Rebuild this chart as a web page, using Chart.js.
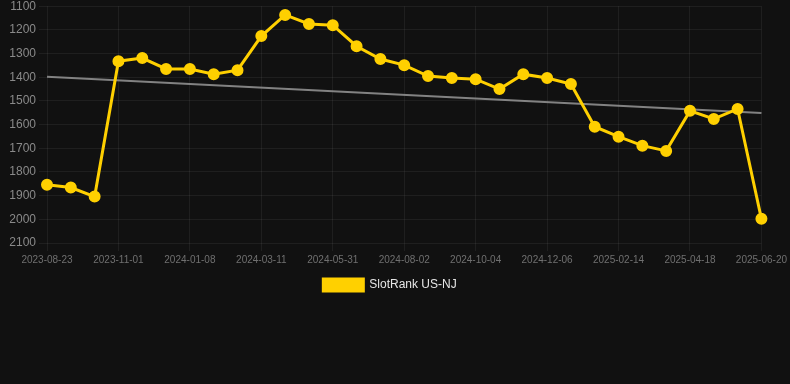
<!DOCTYPE html>
<html>
<head>
<meta charset="utf-8">
<script src="https://cdn.jsdelivr.net/npm/chart.js@4/dist/chart.umd.min.js"></script>
<style>
  html, body { margin: 0; padding: 0; background: #111111; overflow: hidden; }
  #wrap { position: relative; width: 790px; height: 305px; margin-top: -4px; }
</style>
</head>
<body>
<div id="wrap"><canvas id="c"></canvas></div>
<script>
const labels = [
  "2023-08-23","2023-09-15","2023-10-08","2023-11-01","2023-11-24","2023-12-16",
  "2024-01-08","2024-01-29","2024-02-19","2024-03-11","2024-04-07","2024-05-04",
  "2024-05-31","2024-06-21","2024-07-12","2024-08-02","2024-08-23","2024-09-13",
  "2024-10-04","2024-10-25","2024-11-15","2024-12-06","2024-12-29","2025-01-22",
  "2025-02-14","2025-03-06","2025-03-27","2025-04-18","2025-05-09","2025-05-30",
  "2025-06-20"
];
const rankValues = [
  1854, 1866, 1904, 1332, 1319, 1365, 1365, 1387, 1370, 1226, 1137, 1175,
  1180, 1269, 1323, 1349, 1395, 1403, 1408, 1450, 1387, 1403, 1429, 1609,
  1651, 1689, 1711, 1542, 1576, 1534, 1998
];
const trendStart = 1398;
const trendEnd = 1551;
const trendValues = labels.map((_, i) => i === 0 ? trendStart : (i === labels.length - 1 ? trendEnd : null));
const yTicks = [1100, 1200, 1300, 1400, 1500, 1600, 1700, 1800, 1900, 2000, 2100];

Chart.defaults.font.family = "'Liberation Sans', Arial, sans-serif";

new Chart(document.getElementById('c'), {
  type: 'line',
  data: {
    labels: labels,
    datasets: [
      {
        label: 'SlotRank US-NJ',
        data: rankValues,
        borderColor: '#FFD000',
        backgroundColor: '#FFD000',
        borderWidth: 3,
        pointRadius: 4.5,
        pointHoverRadius: 5,
        pointBackgroundColor: '#FFD000',
        pointBorderColor: '#FFD000',
        tension: 0,
        order: 1
      },
      {
        label: 'trend',
        data: trendValues,
        spanGaps: true,
        borderColor: 'rgba(150,150,150,0.85)',
        borderWidth: 2,
        pointRadius: 0,
        pointHoverRadius: 0,
        tension: 0,
        order: 2
      }
    ]
  },
  options: {
    responsive: true,
    maintainAspectRatio: false,
    animation: false,
    layout: { padding: { left: 0, right: 10, top: 0, bottom: 0 } },
    plugins: {
      legend: {
        position: 'bottom',
        labels: {
          color: '#e6e6e6',
          font: { size: 12 },
          boxWidth: 40,
          boxHeight: 12,
          filter: (item) => item.text !== 'trend'
        }
      },
      tooltip: { enabled: false }
    },
    scales: {
      x: {
        offset: false,
        grid: { color: 'rgba(255,255,255,0.06)', drawTicks: true, tickLength: 8 },
        border: { display: false },
        ticks: {
          color: '#707070',
          font: { size: 10 },
          maxRotation: 0,
          autoSkip: true,
          callback: function(v, i) { return i % 3 === 0 ? this.getLabelForValue(v) : null; }
        }
      },
      y: {
        reverse: true,
        min: 1100,
        max: 2100,
        afterBuildTicks: (axis) => { axis.ticks = yTicks.map(v => ({ value: v })); },
        afterFit: (axis) => { axis.width = 47; },
        grid: { color: 'rgba(255,255,255,0.06)', tickLength: 8 },
        border: { display: false },
        ticks: { color: '#8a8a8a', font: { size: 12 }, padding: 3, callback: (v) => String(v) }
      }
    }
  }
});
</script>
</body>
</html>
